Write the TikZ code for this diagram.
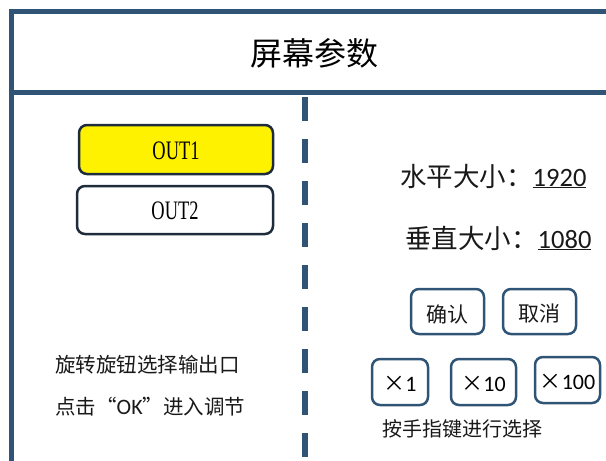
\documentclass[tikz,border=0pt]{standalone}
\usepackage{fontspec}
\setmainfont{Noto Sans CJK SC}
\newfontfamily\cjk{Noto Sans CJK SC}
\newfontfamily\lat{Carlito}
\newfontfamily\outfont{Liberation Serif}[FakeStretch=0.69]
\definecolor{frameblue}{RGB}{47,84,118}
\definecolor{boxedge}{RGB}{30,44,60}
\definecolor{txt}{RGB}{25,25,25}
\begin{document}
\begin{tikzpicture}[x=1pt,y=-1pt,
  framel/.style={draw=frameblue,line width=5.5pt},
  outbox/.style={draw=boxedge,line width=2.5pt,rounded corners=8pt},
  btn/.style={draw=frameblue,line width=2.5pt,rounded corners=8pt},
  lbl/.style={inner sep=0pt,text=txt,anchor=west}]
\useasboundingbox (0,0) rectangle (606,461);
% frame
\draw[framel] (11.5,470) -- (11.5,11.25) -- (615,11.25);
\draw[framel] (11.5,92.5) -- (615,92.5);
\draw[frameblue,line width=5.5pt,dash pattern=on 24pt off 18pt] (305,97) -- (305,470);
% title
\node[inner sep=0pt,text=black,font=\cjk\fontsize{32}{36}\selectfont] (title) at (314,53) {屏幕参数};
% OUT boxes
\draw[outbox,fill=yellow] (79,125) rectangle (273,174);
\node[inner sep=0pt,font=\outfont\fontsize{26.7}{30}\selectfont] (out1) at (176,151) {OUT1};
\draw[outbox,fill=white] (77,186) rectangle (273,234);
\node[inner sep=0pt,font=\outfont\fontsize{26.7}{30}\selectfont] (out2) at (175,211) {OUT2};
% left texts
\node[lbl,font=\cjk\fontsize{20.5}{24}\selectfont] (t1) at (55,365) {旋转旋钮选择输出口};
\node[lbl,font=\cjk\fontsize{20.5}{24}\selectfont] (t2) at (55,407) {点击“{\lat\fontsize{22}{24}\selectfont OK}”进入调节};
% right texts
\node[lbl,font=\cjk\fontsize{26.5}{30}\selectfont] (h) at (400,176) {水平大小：{\lat\underline{1920}}};
\node[lbl,font=\cjk\fontsize{26.5}{30}\selectfont] (v) at (405,238) {垂直大小：{\lat\underline{1080}}};
% buttons
\draw[btn] (411,289) rectangle (484,334);
\node[inner sep=0pt,text=txt,font=\cjk\fontsize{21}{24}\selectfont] (ok) at (447.5,314) {确认};
\draw[btn] (503,289) rectangle (576,334);
\node[inner sep=0pt,text=txt,font=\cjk\fontsize{21}{24}\selectfont] (cancel) at (539.5,314) {取消};
\draw[btn] (372,359) rectangle (428,405);
\node[inner sep=0pt,text=black,font=\lat\fontsize{22}{24}\selectfont] (x1) at (400,384) {{\cjk ×}1};
\draw[btn] (451,359) rectangle (516,405);
\node[inner sep=0pt,text=black,font=\lat\fontsize{22}{24}\selectfont] (x10) at (483.5,384) {{\cjk ×}10};
\draw[btn] (535,357) rectangle (600,403);
\node[inner sep=0pt,text=black,font=\lat\fontsize{22}{24}\selectfont] (x100) at (567.5,382) {{\cjk ×}100};
\node[lbl,font=\cjk\fontsize{20}{24}\selectfont] (hint) at (382,429) {按手指键进行选择};
\end{tikzpicture}
\end{document}
